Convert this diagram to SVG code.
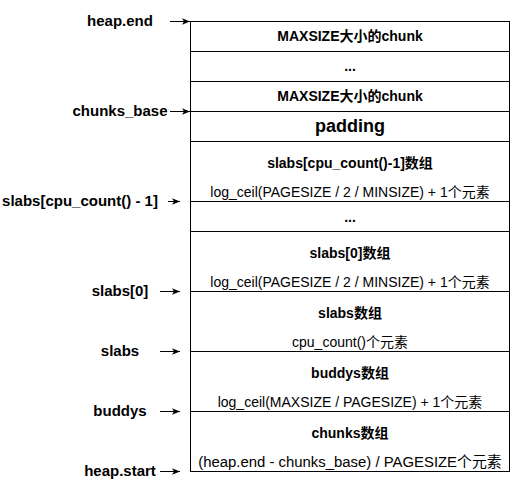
<svg xmlns="http://www.w3.org/2000/svg" width="511" height="493" viewBox="0 0 511 493">
<defs>
<style>
text{font-family:"Liberation Sans",Arial,"Noto Sans CJK SC",sans-serif;fill:#000;text-anchor:middle}
.t{font-size:14px;font-weight:bold}
.p{font-size:18px;font-weight:bold}
.n{font-size:14px}
.n15{font-size:14.9px}
.l{font-size:15px;font-weight:bold}
.cell{fill:#fff;stroke:#000;stroke-width:1}
.conn line{stroke:#000;stroke-width:1}
</style>
<marker id="arr" viewBox="0 0 8 8" refX="8" refY="4" markerWidth="8" markerHeight="8" orient="auto" markerUnits="userSpaceOnUse">
<path d="M0,0.8 L8,4 L0,7.2 L2,4 Z" fill="#000"/>
</marker>
</defs>
<rect width="511" height="493" fill="#fff"/>
<g id="chunk-top">
<rect class="cell" x="190.5" y="21.5" width="319" height="30"/>
<text class="t" x="350" y="41">MAXSIZE大小的chunk</text>
</g>
<g id="chunk-dots">
<rect class="cell" x="190.5" y="51.5" width="319" height="30"/>
<text class="t" x="350" y="71">...</text>
</g>
<g id="chunk-base">
<rect class="cell" x="190.5" y="81.5" width="319" height="30"/>
<text class="t" x="350" y="101">MAXSIZE大小的chunk</text>
</g>
<g id="padding">
<rect class="cell" x="190.5" y="111.5" width="319" height="30"/>
<text class="p" x="350" y="132">padding</text>
</g>
<g id="slabs-last">
<rect class="cell" x="190.5" y="141.5" width="319" height="60"/>
<text class="t" x="350" y="167.5">slabs[cpu_count()-1]数组</text>
<text class="n" x="350" y="197">log_ceil(PAGESIZE / 2 / MINSIZE) + 1个元素</text>
</g>
<g id="slabs-dots">
<rect class="cell" x="190.5" y="201.5" width="319" height="30"/>
<text class="t" x="350" y="222">...</text>
</g>
<g id="slabs-0">
<rect class="cell" x="190.5" y="231.5" width="319" height="60"/>
<text class="t" x="350" y="257.5">slabs[0]数组</text>
<text class="n" x="350" y="287">log_ceil(PAGESIZE / 2 / MINSIZE) + 1个元素</text>
</g>
<g id="slabs">
<rect class="cell" x="190.5" y="291.5" width="319" height="60"/>
<text class="t" x="350" y="317.5">slabs数组</text>
<text class="n" x="350" y="347">cpu_count()个元素</text>
</g>
<g id="buddys">
<rect class="cell" x="190.5" y="351.5" width="319" height="60"/>
<text class="t" x="350" y="377.5">buddys数组</text>
<text class="n" x="350" y="407">log_ceil(MAXSIZE / PAGESIZE) + 1个元素</text>
</g>
<g id="chunks">
<rect class="cell" x="190.5" y="411.5" width="319" height="60"/>
<text class="t" x="350" y="437.5">chunks数组</text>
<text class="n15" x="350" y="467">(heap.end - chunks_base) / PAGESIZE个元素</text>
</g>
<g id="label-heap-end"><text class="l" x="120" y="26">heap.end</text></g>
<g id="label-chunks-base"><text class="l" x="120" y="116">chunks_base</text></g>
<g id="label-slabs-last"><text class="l" x="80" y="206">slabs[cpu_count() - 1]</text></g>
<g id="label-slabs-0"><text class="l" x="120" y="296">slabs[0]</text></g>
<g id="label-slabs"><text class="l" x="120" y="356">slabs</text></g>
<g id="label-buddys"><text class="l" x="120" y="416">buddys</text></g>
<g id="label-heap-start"><text class="l" x="120" y="476">heap.start</text></g>
<g id="connectors" class="conn">
<line x1="170" y1="21.5" x2="190" y2="21.5" marker-end="url(#arr)"/>
<line x1="170" y1="111.5" x2="190" y2="111.5" marker-end="url(#arr)"/>
<line x1="168" y1="201.5" x2="180" y2="201.5" marker-end="url(#arr)"/>
<line x1="160" y1="291.5" x2="180" y2="291.5" marker-end="url(#arr)"/>
<line x1="160" y1="351.5" x2="180" y2="351.5" marker-end="url(#arr)"/>
<line x1="160" y1="411.5" x2="180" y2="411.5" marker-end="url(#arr)"/>
<line x1="160" y1="471.5" x2="180" y2="471.5" marker-end="url(#arr)"/>
</g>
</svg>
